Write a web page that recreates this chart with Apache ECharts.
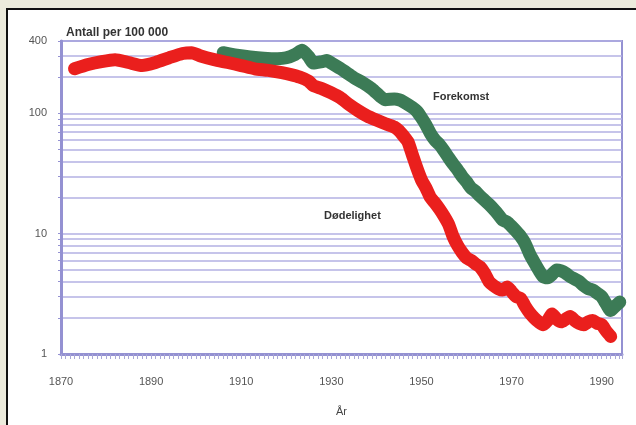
<!DOCTYPE html>
<html>
<head>
<meta charset="utf-8">
<script src="https://cdn.jsdelivr.net/npm/echarts@6/dist/echarts.min.js"></script>
<style>
  html, body { margin: 0; padding: 0; width: 636px; height: 425px; background: #ecebdc; overflow: hidden; }
  #panel { position: absolute; left: 6px; top: 8px; right: -4px; bottom: -4px; background: #ffffff; border-left: 2px solid #111; border-top: 2px solid #111; }
  #chart { position: absolute; left: 0; top: 0; width: 636px; height: 425px; }
</style>
</head>
<body>
<div id="panel"></div>
<div id="chart"></div>
<script>
// ---- Data ----
const yearLabels = [1870, 1890, 1910, 1930, 1950, 1970, 1990];
const yLabelValues = [1, 10, 100, 400];
const gridValues = [1, 2, 3, 4, 5, 6, 7, 8, 9, 10, 20, 30, 40, 50, 60, 70, 80, 90, 100, 200, 300, 400];

// Dødelighet (mortality), red
const redYears = [1873, 1876, 1879, 1882, 1885, 1888, 1891, 1894, 1897, 1899, 1901, 1904, 1907, 1910, 1913, 1916, 1919, 1921, 1923, 1925, 1926, 1928, 1930, 1932, 1934, 1936, 1938, 1940, 1942, 1944, 1945, 1946, 1947, 1948, 1949, 1950, 1951, 1952, 1953, 1954, 1955, 1956, 1957, 1958, 1959, 1960, 1961, 1962, 1963, 1964, 1965, 1966, 1967, 1968, 1969, 1970, 1971, 1972, 1973, 1974, 1975, 1976, 1977, 1978, 1979, 1980, 1981, 1982, 1983, 1984, 1985, 1986, 1987, 1988, 1989, 1990, 1991, 1992];
const redValues = [235, 255, 270, 280, 265, 250, 265, 290, 315, 320, 300, 280, 265, 250, 235, 228, 218, 210, 200, 185, 170, 160, 148, 135, 118, 105, 95, 88, 82, 77, 72, 65, 58, 45, 35, 28, 24, 20, 18, 16, 14, 12, 9.5, 8, 7, 6.3, 6.0, 5.6, 5.3, 4.7, 4.0, 3.7, 3.5, 3.4, 3.6, 3.3, 3.0, 2.9, 2.5, 2.2, 2.0, 1.85, 1.75, 1.9, 2.15, 1.95, 1.85, 1.95, 2.05, 1.9, 1.8, 1.75, 1.85, 1.9, 1.8, 1.75, 1.55, 1.4];

// Forekomst (incidence), green
const greenYears = [1906, 1909, 1912, 1915, 1918, 1920, 1922, 1923.5, 1925, 1926, 1928, 1929, 1930, 1932, 1934, 1935, 1937, 1939, 1941, 1942, 1944, 1945, 1946, 1948, 1949, 1950, 1951, 1952, 1953, 1954, 1955, 1956, 1957, 1958, 1959, 1960, 1961, 1962, 1963, 1964, 1965, 1966, 1967, 1968, 1969, 1970, 1971, 1972, 1973, 1974, 1975, 1976, 1977, 1978, 1979, 1980, 1981, 1982, 1983, 1984, 1985, 1986, 1987, 1988, 1989, 1990, 1991, 1992, 1993, 1994];
const greenValues = [320, 305, 295, 288, 285, 290, 310, 335, 295, 262, 270, 275, 262, 236, 210, 198, 180, 160, 137, 130, 132, 130, 125, 112, 104, 92, 80, 68, 60, 55, 49, 43, 38, 34, 30, 27, 24, 22.5, 20.5, 19, 17.5, 16, 14.5, 13, 12.5, 11.5, 10.5, 9.5, 8.3, 6.8, 5.8, 5.0, 4.4, 4.3, 4.6, 5.0, 4.9, 4.7, 4.4, 4.2, 4.0, 3.7, 3.5, 3.4, 3.2, 3.0, 2.6, 2.3, 2.5, 2.7];

const redPairs = redYears.map((y, i) => [y, redValues[i]]);
const greenPairs = greenYears.map((y, i) => [y, greenValues[i]]);

const purple = '#9491d2';
const gridPurple = '#b3b0e3';

const chart = echarts.init(document.getElementById('chart'), null, { renderer: 'canvas' });
chart.setOption({
  backgroundColor: 'transparent',
  animation: false,
  grid: { left: 61, top: 41, right: 14, bottom: 71, show: true, borderColor: purple, borderWidth: 2, backgroundColor: 'transparent' },
  xAxis: {
    type: 'value', min: 1870, max: 1994.5, interval: 20,
    name: 'År', nameLocation: 'middle', nameGap: 52,
    nameTextStyle: { color: '#444', fontSize: 11, fontFamily: 'Liberation Sans' },
    axisLine: { show: true, lineStyle: { color: purple, width: 3 } },
    axisTick: { show: true, length: 5, lineStyle: { color: '#a9a7d6', width: 1 } },
    minorTick: { show: true, splitNumber: 20, length: 5, lineStyle: { color: '#a9a7d6', width: 1 } },
    splitLine: { show: false },
    axisLabel: { color: '#555', fontSize: 11, fontFamily: 'Liberation Sans', margin: 22,
      customValues: yearLabels, formatter: v => String(v) }
  },
  yAxis: {
    type: 'log', logBase: 10, min: 1, max: 400,
    axisLine: { show: true, lineStyle: { color: purple, width: 3 } },
    axisTick: { show: true, length: 3, customValues: gridValues, lineStyle: { color: purple, width: 1 } },
    minorTick: { show: false },
    splitLine: { show: true, lineStyle: { color: gridPurple, width: 1.5 } },
    axisLabel: { color: '#555', fontSize: 11, fontFamily: 'Liberation Sans', margin: 14,
      customValues: yLabelValues, formatter: v => String(Math.round(v)), padding: [4, 0, 0, 0] }
  },
  title: {
    text: 'Antall per 100 000', left: 61, top: 22,
    textStyle: { color: '#333', fontSize: 12, fontWeight: 'bold', fontFamily: 'Liberation Sans' }
  },
  graphic: [
    { type: 'text', left: 433, top: 91, style: { text: 'Forekomst', fill: '#333', font: 'bold 11px "Liberation Sans"' } },
    { type: 'text', left: 324, top: 210, style: { text: 'Dødelighet', fill: '#333', font: 'bold 11px "Liberation Sans"' } }
  ],
  series: [
    { name: 'Forekomst', type: 'line', data: greenPairs, showSymbol: false, smooth: 0.2, clip: false,
      lineStyle: { color: '#3c7b56', width: 13, cap: 'round', join: 'round' } },
    { name: 'Dødelighet', type: 'line', data: redPairs, showSymbol: false, smooth: 0.2, clip: false,
      lineStyle: { color: '#ea1f1d', width: 13, cap: 'round', join: 'round' } }
  ]
});
</script>
</body>
</html>
